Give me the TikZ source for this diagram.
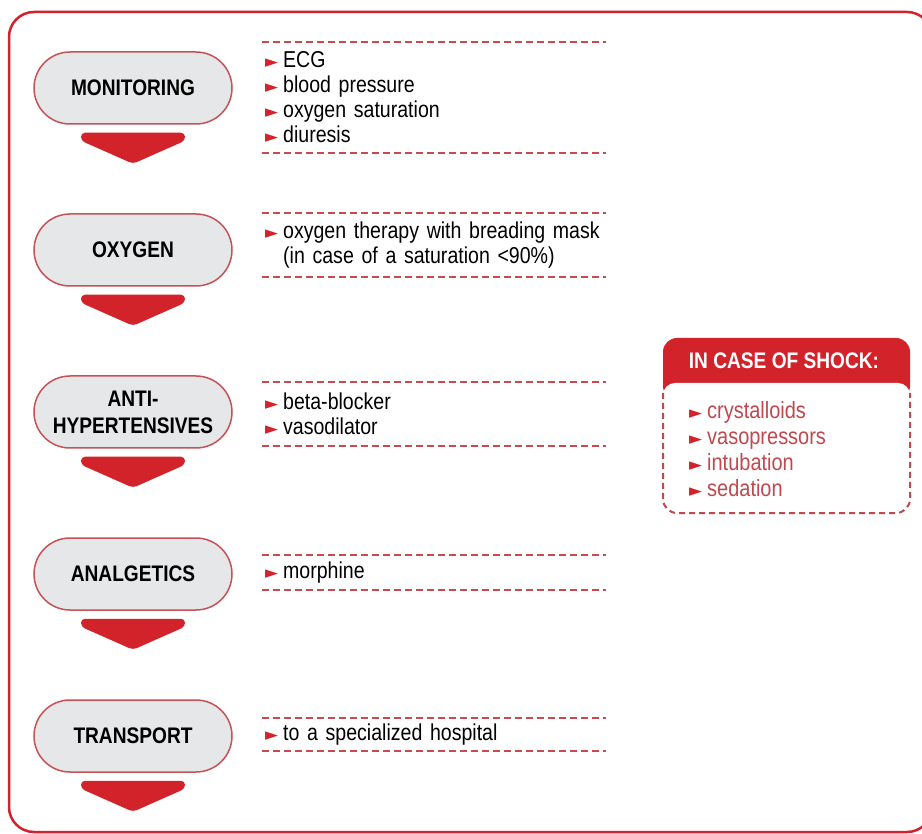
\documentclass[tikz,border=0pt]{standalone}
\usepackage{fontspec}
\setmainfont{Liberation Sans}[FakeStretch=0.85]
\newfontfamily\symfont{DejaVu Sans}
\usetikzlibrary{calc}
\definecolor{mainred}{RGB}{210,35,42}
\definecolor{pillred}{RGB}{198,82,88}
\definecolor{dashred}{RGB}{200,74,80}
\definecolor{shockred}{RGB}{192,72,78}
\definecolor{pillgray}{RGB}{230,231,232}
\tikzstyle{pill} = [rectangle, rounded corners=36pt, minimum width=198pt, minimum height=72pt, draw=pillred, line width=1.5pt, fill=pillgray, font=\bfseries\fontsize{22.5}{27}\selectfont, align=center]
\tikzstyle{list} = [anchor=west, text width=338pt, inner xsep=3pt, inner ysep=0pt, font=\fontsize{23}{25}\selectfont, align=left]
\tikzstyle{dashline} = [draw=dashred, line width=2pt, dash pattern=on 7pt off 4pt]
\tikzstyle{tip} = [fill=mainred, rounded corners=4pt]
\newcommand\bul{\makebox[18pt][l]{\textcolor{mainred}{\symfont\fontsize{17}{17}\selectfont ►}}}

\begin{document}
\begin{tikzpicture}[x=1pt, y=-1pt]

\useasboundingbox (0,0) rectangle (922,834);
\clip (0,0) rectangle (922,834);
\draw[mainred, line width=2.5pt, rounded corners=25pt] (9,12) rectangle (932,832);

\node at (133,88) (monitoring) [pill] {MONITORING};
\node at (133,250) (oxygen) [pill] {OXYGEN};
\node at (133,412) (antihyp) [pill] {ANTI-\\HYPERTENSIVES};
\node at (133,574) (analgetics) [pill] {ANALGETICS};
\node at (133,736) (transport) [pill] {TRANSPORT};

\foreach \n in {monitoring,oxygen,antihyp,analgetics,transport}
  \fill[tip] ($(\n.south)+(-52,8)$) -- ++(104,0) -- ++(0,8) -- ++(-52,23) -- ++(-52,-23) -- cycle;

\node at (262,97.5) (monlist) [list, minimum height=111pt] {\bul ECG\\\bul blood pressure\\\bul oxygen saturation\\\bul diuresis};
\node at (262,245) (oxylist) [list, minimum height=64pt] {\bul oxygen therapy with breading mask\\\hspace*{18pt}(in case of a saturation <90\%)};
\node at (262,414) (antilist) [list, minimum height=64pt] {\bul beta-blocker\\\bul vasodilator};
\node at (262,572.5) (analist) [list, minimum height=35pt] {\bul morphine};
\node at (262,734.5) (translist) [list, minimum height=33pt] {\bul to a specialized hospital};

\foreach \l in {monlist,oxylist,antilist,analist,translist} {
  \draw[dashline] (\l.north west) -- (\l.north east);
  \draw[dashline] (\l.south west) -- (\l.south east);
}

\fill[mainred, rounded corners=14pt] (663,338) rectangle (910,400);
\fill[white, rounded corners=12pt] (663,383) rectangle (910,513);
\draw[dashline, draw=shockred, dash pattern=on 6pt off 4pt, rounded corners=14pt] (663,393) -- (663,513) -- (910,513) -- (910,393);
\node at (784,361) (shockhead) [font=\bfseries\fontsize{22.5}{22}\selectfont, text=white] {IN CASE OF SHOCK:};
\node at (689,449) (shocklist) [anchor=west, inner sep=0pt, align=left, text=shockred, font=\fontsize{23.5}{26}\selectfont] {\bul crystalloids\\\bul vasopressors\\\bul intubation\\\bul sedation};

\end{tikzpicture}
\end{document}
